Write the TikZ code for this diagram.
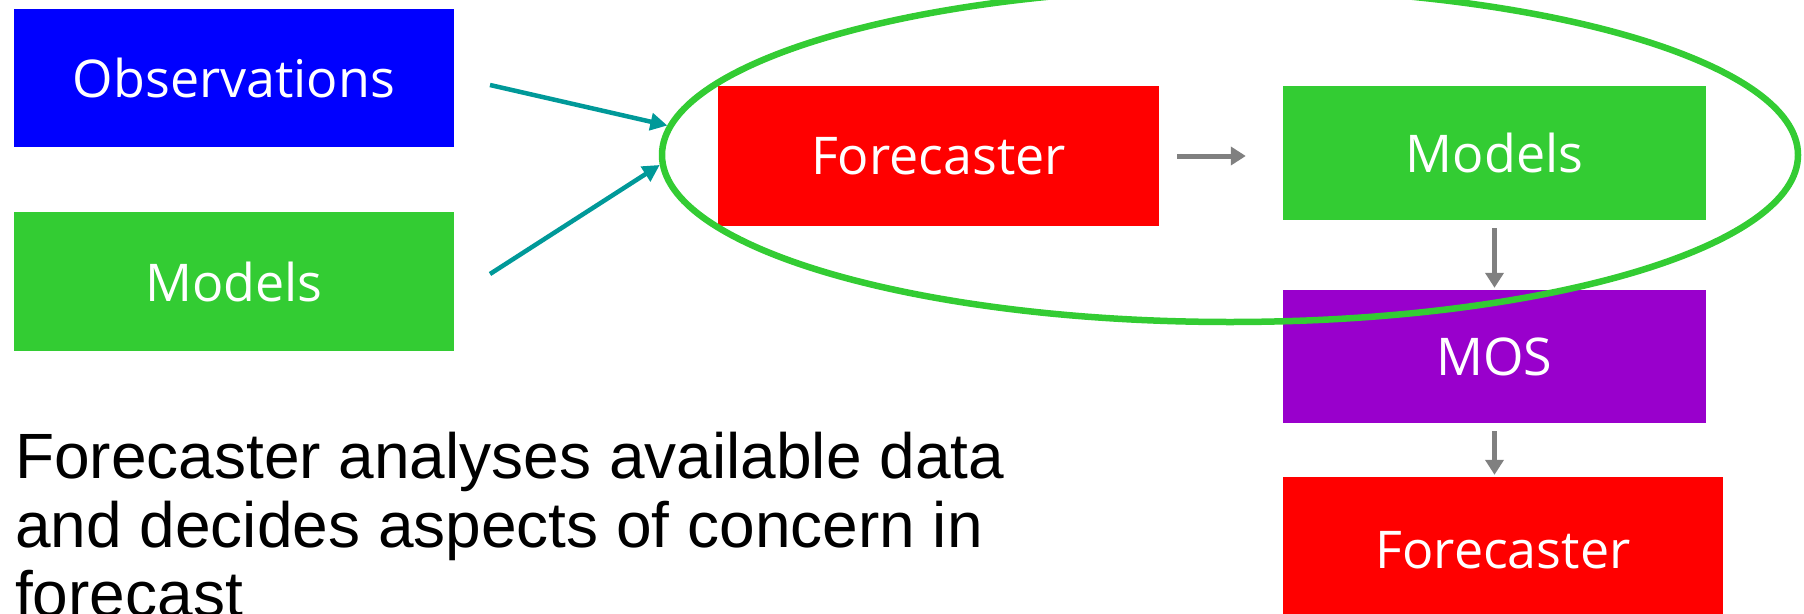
\documentclass[tikz,border=0pt]{standalone}
\usepackage{fontspec}
\setmainfont{Liberation Sans}
\newfontfamily\boxfont{Open Sans}
\usetikzlibrary{arrows.meta,shapes.geometric}
\definecolor{cblue}{HTML}{0000FF}
\definecolor{cgreen}{HTML}{33CC33}
\definecolor{cred}{HTML}{FF0000}
\definecolor{cpurple}{HTML}{9900CC}
\definecolor{cteal}{HTML}{009999}
\definecolor{cgray}{HTML}{808080}
\tikzset{
  box/.style={inner sep=0pt, text=white, font=\boxfont\fontsize{52}{60}\selectfont},
  tealarrow/.style={draw=cteal, line width=4.5pt, -{Triangle[length=17pt,width=17pt]}},
  grayarrow/.style={draw=cgray, line width=5pt, -{Triangle[length=15pt,width=18pt]}},
  loopring/.style={draw=cgreen, line width=6.5pt, ellipse, inner sep=0pt}
}
\begin{document}
\begin{tikzpicture}[x=1pt,y=-1pt]
\useasboundingbox (0,0) rectangle (1804,613);
\node[box, fill=cblue, minimum width=440pt, minimum height=138pt] (obs) at (234,78) {Observations};
\node[box, fill=cgreen, minimum width=440pt, minimum height=139pt] (modl) at (234,281.5) {Models};
\node[box, fill=cred, minimum width=441pt, minimum height=140pt] (fc) at (938.5,156) {Forecaster};
\node[box, fill=cgreen, minimum width=423pt, minimum height=134pt] (modr) at (1494.5,153) {Models};
\node[box, fill=cpurple, minimum width=423pt, minimum height=133pt] (mos) at (1494.5,356.5) {MOS};
\node[box, fill=cred, minimum width=440pt, minimum height=146pt] (fc2) at (1503,550) {Forecaster};
\node[loopring, minimum width=1136pt, minimum height=334pt] (loop) at (1230,155) {};
\coordinate (o1) at (490,85);
\coordinate (m1) at (490,274);
\draw[tealarrow] (o1) -- (loop.177.8);
\draw[tealarrow] (m1) -- (loop.181.2);
\draw[grayarrow, shorten <=18pt, shorten >=37pt] (fc.east) -- (fc.east -| modr.west);
\draw[grayarrow, shorten <=8pt, shorten >=2pt] (modr.south) -- (mos.north);
\draw[grayarrow, shorten <=8pt, shorten >=2pt] (mos.south) -- (mos.south |- fc2.north);
\node[anchor=north west, inner sep=0pt, align=left, font=\fontsize{64}{69}\selectfont] (txt) at (15,432) {Forecaster analyses available data\\and decides aspects of concern in\\forecast};
\end{tikzpicture}
\end{document}
